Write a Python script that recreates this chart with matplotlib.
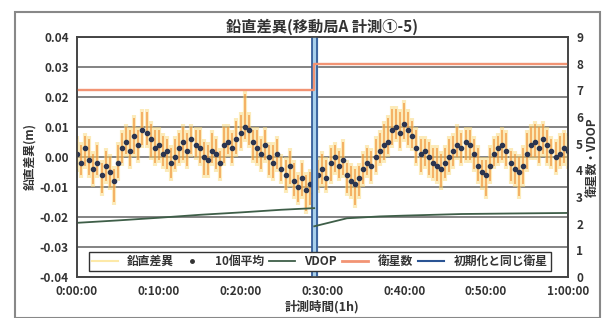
import numpy as np
import matplotlib
matplotlib.use("Agg")
import matplotlib.pyplot as plt
from matplotlib.lines import Line2D
from matplotlib.patches import Rectangle

plt.rcParams['font.family'] = ['Noto Sans CJK JP', 'DejaVu Sans']

# 10-sample average of vertical difference, every 30 s (mm)
avg_mm = [1, -2, 3, -1, -4, -2, -6, -3, -5, -8, -2, 3, 5, 2, 7, 4, 9, 8, 6, 3,
          4, 1, 2, -2, 0, 3, 5, 2, 6, 4, 3, 0, -1, 2, 1, -2, 4, 5, 3, 6,
          8, 10, 9, 5, 3, 1, 4, 0, -2, 1, -4, -6, -3, -8, -10, -7, -11, -9, -12, -6,
          -4, -7, -2, 0, -3, -1, -6, -8, -9, -7, -4, -2, -3, 0, 2, 4, 5, 9, 10, 8,
          11, 9, 7, 3, 1, 2, 0, -2, -3, -4, -2, 0, 2, 4, 3, 5, 4, 1, -3, -5,
          -6, -3, 1, 3, 4, 2, -2, -4, -5, -3, 1, 4, 5, 3, 6, 4, 2, 0, 1, 3, 2]
# spread of raw vertical difference above / below the average (mm)
up_mm = [6, 7, 5, 8, 6, 7, 5, 6, 6, 5, 7, 6, 6, 8, 7, 6, 7, 8, 6, 7,
         6, 7, 5, 6, 7, 6, 6, 7, 5, 6, 7, 6, 6, 7, 6, 5, 7, 6, 6, 7,
         7, 12, 6, 5, 7, 6, 6, 5, 7, 6, 5, 6, 6, 7, 5, 6, 6, 5, 7, 6,
         6, 7, 6, 5, 6, 7, 5, 6, 6, 5, 6, 6, 6, 7, 7, 8, 9, 8, 7, 8,
         8, 7, 6, 7, 6, 5, 6, 6, 7, 6, 6, 7, 6, 7, 6, 5, 6, 6, 7, 5,
         6, 7, 6, 5, 6, 7, 5, 6, 6, 7, 8, 7, 7, 8, 6, 6, 5, 6, 7, 6, 6]
dn_mm = [6, 5, 7, 6, 6, 5, 7, 6, 6, 8, 6, 6, 5, 6, 7, 6, 6, 5, 7, 6,
         6, 5, 7, 6, 5, 6, 7, 6, 6, 5, 6, 7, 6, 5, 6, 6, 7, 5, 6, 6,
         6, 5, 6, 7, 6, 6, 6, 7, 6, 6, 5, 6, 7, 6, 6, 7, 8, 8, 7, 6,
         6, 5, 7, 6, 5, 6, 7, 6, 8, 7, 6, 5, 6, 6, 5, 6, 5, 6, 5, 6,
         6, 6, 5, 6, 7, 6, 7, 6, 6, 7, 6, 6, 6, 5, 6, 7, 6, 6, 6, 6,
         8, 6, 5, 6, 6, 6, 7, 6, 9, 7, 6, 5, 6, 6, 6, 7, 6, 6, 5, 6, 6]

# VDOP (minutes, value)
vdop_t1 = [0, 5, 10, 15, 20, 25, 29]
vdop_v1 = [2.03, 2.12, 2.22, 2.33, 2.42, 2.52, 2.58]
vdop_t2 = [29, 31, 33, 37, 40, 47, 53, 60]
vdop_v2 = [1.9, 2.05, 2.2, 2.27, 2.3, 2.36, 2.38, 2.4]

# number of satellites
sat_t = [0, 29, 29, 60]
sat_n = [7, 7, 8, 8]

reinit_min = 29.0
xticks = [0, 10, 20, 30, 40, 50, 60]
xlabels = ["0:00:00", "0:10:00", "0:20:00", "0:30:00", "0:40:00", "0:50:00", "1:00:00"]

t = np.arange(len(avg_mm)) * 0.5
avg = np.array(avg_mm) / 1000.0
hi = avg + np.array(up_mm) / 1000.0
lo = avg - np.array(dn_mm) / 1000.0

fig = plt.figure(figsize=(6.06, 3.18), dpi=100)
fig.patches.append(Rectangle((0.025, 0.0), 0.965, 0.962, transform=fig.transFigure,
                             fill=False, edgecolor='#888888', lw=1.5))
ax = fig.add_axes([0.127, 0.129, 0.81, 0.755])
ax2 = ax.twinx()

ax.set_ylim(-0.04, 0.04)
ax.set_yticks(np.arange(-0.04, 0.041, 0.01))
ax.set_yticklabels(["%.2f" % v for v in np.arange(-0.04, 0.041, 0.01)])
ax.set_xlim(0, 60)
ax.set_xticks(xticks)
ax.set_xticklabels(xlabels)
ax.grid(axis='y', color='#6e6e6e', lw=1.2)
ax.set_axisbelow(True)

ax.vlines(t, lo, hi, colors='#fbd878', lw=3, alpha=0.5, zorder=2)
ax.vlines(t, lo + 0.001, hi - 0.001, colors='#f0963c', lw=1.2, alpha=0.8, zorder=3)
ax.scatter(t, avg, s=9, color='#2b3550', zorder=4)

ax.axvspan(reinit_min - 0.3, reinit_min + 0.3, color='#a8d0ec', zorder=5)
ax.axvline(reinit_min - 0.3, color='#2a5494', lw=1.2, zorder=6)
ax.axvline(reinit_min + 0.3, color='#2a5494', lw=1.2, zorder=6)

ax2.set_ylim(0, 9)
ax2.set_yticks(range(10))
ax2.plot(vdop_t1, vdop_v1, color='#3e5e48', lw=1.3)
ax2.plot(vdop_t2, vdop_v2, color='#3e5e48', lw=1.3)
ax2.plot(sat_t, sat_n, color='#f29474', lw=1.7)

for a in (ax, ax2):
    a.tick_params(length=0, labelsize=8.5, labelcolor='#333333', pad=6)
    for lab in a.get_yticklabels() + a.get_xticklabels():
        lab.set_fontweight('bold')
    for s in a.spines.values():
        s.set_color('#444444')
        s.set_linewidth(1.2)

ax.set_title("鉛直差異(移動局A 計測①-5)", fontsize=11, fontweight='bold', color='#333333', pad=4)
ax.set_xlabel("計測時間(1h)", fontsize=9, fontweight='bold', color='#333333', labelpad=1)
ax.set_ylabel("鉛直差異(m)", fontsize=8.5, fontweight='bold', color='#333333', labelpad=2)
ax2.set_ylabel("衛星数・VDOP", fontsize=8.5, fontweight='bold', color='#333333', labelpad=2)

handles = [Line2D([], [], color='#fde9a8', lw=1.5),
           Line2D([], [], ls='none', marker='o', ms=2.5, color='#333333'),
           Line2D([], [], color='#3e5e48', lw=1.3),
           Line2D([], [], color='#f29474', lw=2),
           Line2D([], [], color='#2a5494', lw=1.5)]
labels = ["鉛直差異", "10個平均", "VDOP", "衛星数", "初期化と同じ衛星"]
leg = ax.legend(handles, labels, loc='lower left', ncol=5, mode='expand',
                bbox_to_anchor=(0.012, 0.0, 0.965, 0.09), fancybox=False,
                framealpha=1, edgecolor='#333333', fontsize=8.5,
                handlelength=2.2, borderpad=0.25, columnspacing=1.0)
leg.set_zorder(10)
for txt in leg.get_texts():
    txt.set_fontweight('bold')
    txt.set_color('#333333')

fig.savefig("out.png", dpi=100)
